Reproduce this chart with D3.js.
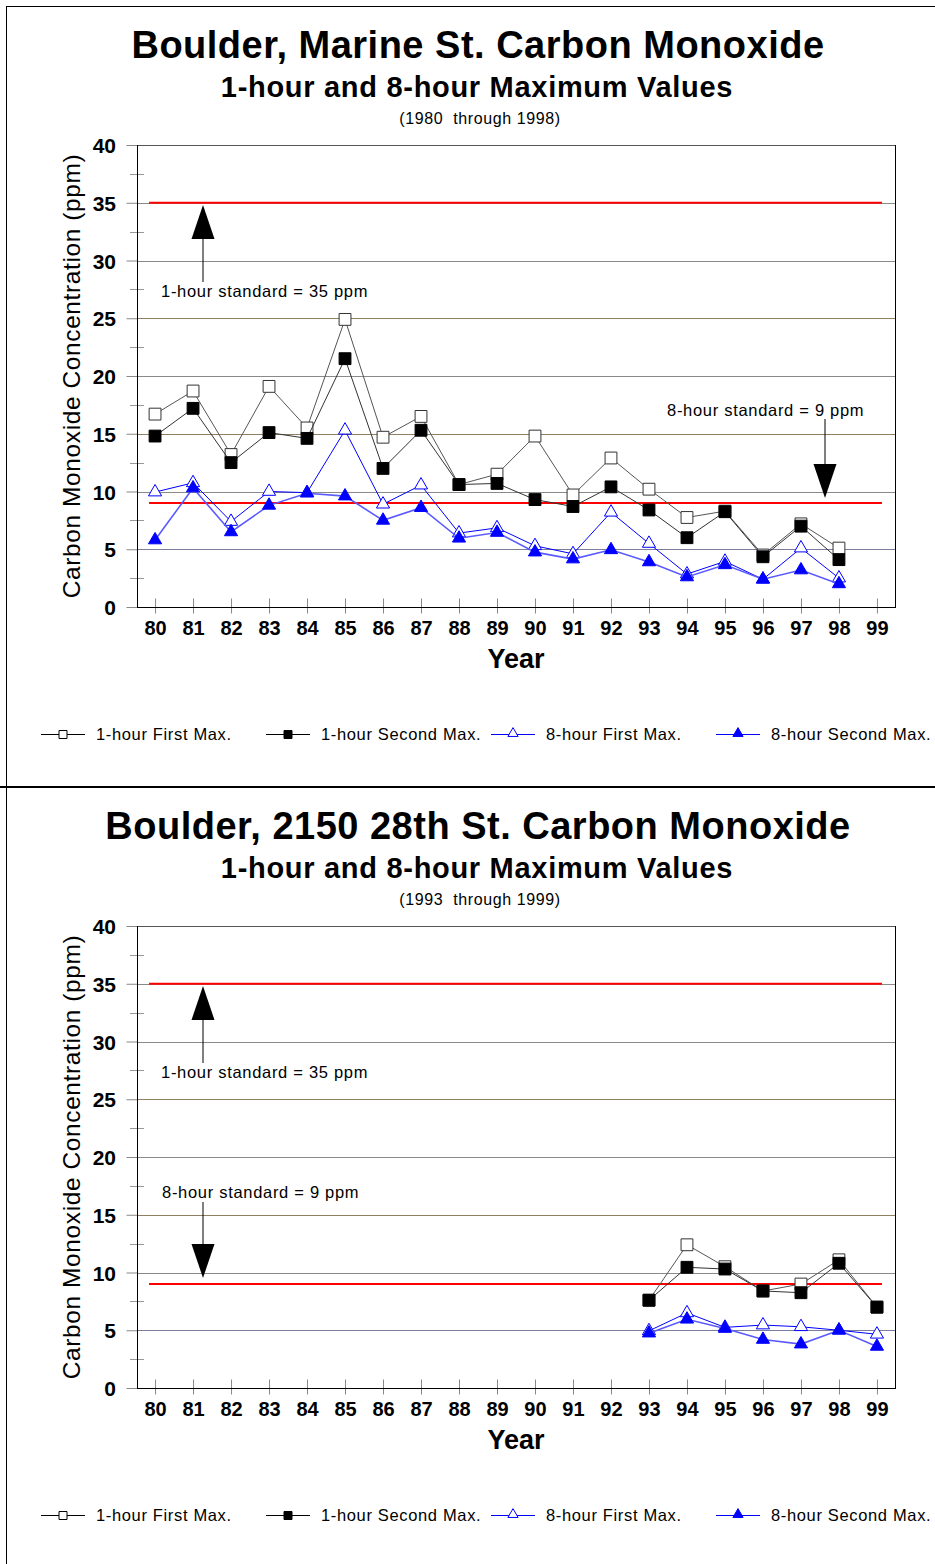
<!DOCTYPE html>
<html>
<head>
<meta charset="utf-8">
<script src="https://cdn.jsdelivr.net/npm/d3@7"></script>
<style>
  html, body { margin: 0; padding: 0; background: #fff; }
  svg { display: block; }
  text { font-family: Arial, "Liberation Sans", sans-serif; white-space: pre; }
</style>
</head>
<body>
<svg id="chart" width="935" height="1564"></svg>
<script>
// Year categories on the x axis (1980-1999)
const yearLabels = ["80","81","82","83","84","85","86","87","88","89","90","91","92","93","94","95","96","97","98","99"];
const yTicks = [0, 5, 10, 15, 20, 25, 30, 35, 40];

// Marine St. site, 1980-1998 (ppm)
const marineYears   = ["80","81","82","83","84","85","86","87","88","89","90","91","92","93","94","95","96","97","98"];
const marine1hFirst  = [16.7, 18.7, 13.2, 19.1, 15.5, 24.9, 14.7, 16.5, 10.6, 11.5, 14.8, 9.7, 12.9, 10.2, 7.75, 8.3, 4.5, 7.2, 5.1];
const marine1hSecond = [14.8, 17.2, 12.5, 15.1, 14.6, 21.5, 12.0, 15.3, 10.6, 10.7, 9.3, 8.7, 10.4, 8.4, 6.0, 8.25, 4.35, 7.0, 4.1];
const marine8hFirst  = [9.95, 10.75, 7.4, 10.0, 9.9, 15.3, 8.9, 10.55, 6.4, 6.85, 5.3, 4.6, 8.2, 5.5, 2.85, 3.95, 2.4, 5.1, 2.5];
const marine8hSecond = [5.8, 10.3, 6.5, 8.8, 9.85, 9.6, 7.5, 8.6, 5.95, 6.45, 4.75, 4.15, 4.95, 3.9, 2.6, 3.65, 2.4, 3.2, 2.0];

// 2150 28th St. site, 1993-1999 (ppm)
const st28Years    = ["93","94","95","96","97","98","99"];
const st281hFirst  = [7.6, 12.4, 10.5, 8.4, 9.0, 11.1, 7.0];
const st281hSecond = [7.6, 10.45, 10.3, 8.4, 8.25, 10.8, 7.0];
const st288hFirst  = [4.95, 6.5, 5.25, 5.45, 5.3, 5.0, 4.65];
const st288hSecond = [4.75, 5.95, 5.15, 4.2, 3.8, 5.0, 3.6];

// Air-quality standards (ppm)
const standard1h = 35;
const standard8h = 9;

const seriesNames = ["1-hour First Max.", "1-hour Second Max.", "8-hour First Max.", "8-hour Second Max."];

const svg = d3.select("#chart");

// page frame and panel divider
svg.append("line").attr("x1", 6.5).attr("x2", 6.5).attr("y1", 6).attr("y2", 1564).attr("stroke", "#000").attr("stroke-width", 1);
svg.append("line").attr("x1", 6).attr("x2", 935).attr("y1", 6.5).attr("y2", 6.5).attr("stroke", "#000").attr("stroke-width", 1);
svg.append("line").attr("x1", 0).attr("x2", 935).attr("y1", 787).attr("y2", 787).attr("stroke", "#000").attr("stroke-width", 2);

// marker symbols
const styles = [
  { symbol: d3.symbolSquare, fill: "#fff", stroke: "#333", line: "#555", lw: 1, size: 140 },
  { symbol: d3.symbolSquare, fill: "#000", stroke: "#000", line: "#333", lw: 1, size: 140 },
  { symbol: d3.symbolTriangle, fill: "#fff", stroke: "#0000ff", line: "#0000ff", lw: 1, size: 75 },
  { symbol: d3.symbolTriangle, fill: "#0000ff", stroke: "#0000ff", line: "#5a5aff", lw: 1.6, size: 75 }
];

const gridColors = { 5: "#7c7c9c", 10: "#8a8a8a", 15: "#8f8062", 20: "#8a8a8a", 25: "#8f8062", 30: "#8a8a8a", 40: "#555" };

function arrow(g, x, tipY, up, lineEnd) {
  // arrowhead of 23px wide, 34px tall plus a thin shaft
  const dir = up ? 1 : -1;
  const baseY = tipY + dir * 34;
  g.append("line").attr("x1", x).attr("x2", x).attr("y1", baseY).attr("y2", lineEnd)
    .attr("stroke", "#000").attr("stroke-width", 1);
  g.append("path")
    .attr("d", `M${x},${tipY} L${x - 11.5},${baseY} L${x + 11.5},${baseY} Z`)
    .attr("fill", "#000");
}

function drawPanel(offsetY, cfg) {
  const g = svg.append("g").attr("transform", `translate(0,${offsetY})`);

  const left = 137, right = 895, top = 145, bottom = 607;
  const x = d3.scalePoint().domain(yearLabels).range([left, right]).padding(0.475);
  const y = d3.scaleLinear().domain([0, 40]).range([bottom, top]);

  // titles
  g.append("text").attr("x", 478).attr("y", 58).attr("text-anchor", "middle")
    .attr("font-size", 38).attr("font-weight", "bold").attr("letter-spacing", 0.5).text(cfg.title);
  g.append("text").attr("x", 477).attr("y", 97).attr("text-anchor", "middle")
    .attr("font-size", 29).attr("font-weight", "bold").attr("letter-spacing", 0.7).text("1-hour and 8-hour Maximum Values");
  g.append("text").attr("x", 480).attr("y", 124).attr("text-anchor", "middle")
    .attr("font-size", 16).attr("letter-spacing", 0.6).text(cfg.range);

  // horizontal grid lines
  g.append("g").selectAll("line").data(yTicks.filter(d => d > 0)).join("line")
    .attr("x1", left).attr("x2", right)
    .attr("y1", d => Math.round(y(d)) + 0.5).attr("y2", d => Math.round(y(d)) + 0.5)
    .attr("stroke", d => gridColors[d] || "#8a8a8a").attr("stroke-width", 1);

  // y axis: major ticks outside, minor ticks crossing the axis
  const yAxis = d3.axisLeft(y).tickValues(yTicks).tickSize(11).tickPadding(10).tickFormat(d3.format("d"));
  const ya = g.append("g").attr("transform", `translate(${left + 0.5},0)`).call(yAxis);
  ya.select(".domain").remove();
  ya.selectAll(".tick line").attr("stroke", "#888");
  ya.selectAll(".tick text").attr("font-size", 21).attr("font-weight", "bold")
    .attr("font-family", "Arial, 'Liberation Sans', sans-serif").attr("fill", "#000")
    .attr("dy", "0.36em").attr("x", -21.5);
  const minor = d3.range(2.5, 40, 5);
  g.append("g").selectAll("line").data(minor).join("line")
    .attr("x1", left - 7).attr("x2", left + 7)
    .attr("y1", d => Math.round(y(d)) + 0.5).attr("y2", d => Math.round(y(d)) + 0.5)
    .attr("stroke", "#999");

  // x axis
  const xAxis = d3.axisBottom(x).tickSize(6).tickPadding(8);
  const xa = g.append("g").attr("transform", `translate(0,${bottom + 0.5})`).call(xAxis);
  xa.select(".domain").remove();
  xa.selectAll(".tick line").attr("stroke", "#888").attr("y1", -9);
  xa.selectAll(".tick text").attr("font-size", 20).attr("font-weight", "bold")
    .attr("font-family", "Arial, 'Liberation Sans', sans-serif").attr("fill", "#000")
    .attr("y", 13).attr("dy", "0.71em");

  // plot frame
  g.append("line").attr("x1", left + 0.5).attr("x2", left + 0.5).attr("y1", top).attr("y2", bottom + 1).attr("stroke", "#000");
  g.append("line").attr("x1", left).attr("x2", right + 1).attr("y1", bottom + 0.5).attr("y2", bottom + 0.5).attr("stroke", "#000");
  g.append("line").attr("x1", right + 0.5).attr("x2", right + 0.5).attr("y1", top).attr("y2", bottom + 1).attr("stroke", "#000");

  // axis titles
  g.append("text").attr("transform", `translate(80,376) rotate(-90)`).attr("text-anchor", "middle")
    .attr("font-size", 24.5).attr("letter-spacing", 0.6).text("Carbon Monoxide Concentration (ppm)");
  g.append("text").attr("x", 516).attr("y", 668).attr("text-anchor", "middle")
    .attr("font-size", 27).attr("font-weight", "bold").text("Year");

  // standard lines
  [standard1h, standard8h].forEach(v => {
    g.append("line").attr("x1", x("80") - 6).attr("x2", x("99") + 5)
      .attr("y1", y(v)).attr("y2", y(v)).attr("stroke", "#ff0000").attr("stroke-width", 2);
  });

  // annotations
  cfg.notes.forEach(n => {
    g.append("text").attr("x", n.tx).attr("y", n.ty).attr("font-size", 16.5)
      .attr("letter-spacing", 0.7).text(n.text);
    arrow(g, n.ax, n.tip, n.up, n.end);
  });

  // series
  cfg.series.forEach((vals, i) => {
    const st = styles[i];
    const pts = cfg.years.map((yr, j) => [x(yr), y(vals[j])]);
    g.append("path").attr("d", d3.line()(pts)).attr("fill", "none")
      .attr("stroke", st.line).attr("stroke-width", st.lw);
    g.append("g").selectAll("path").data(pts).join("path")
      .attr("transform", d => `translate(${d[0]},${d[1]})`)
      .attr("d", d3.symbol(st.symbol, st.size))
      .attr("fill", st.fill).attr("stroke", st.stroke).attr("stroke-width", 1);
  });

  // legend
  const legX = [41, 266, 491, 716];
  const lg = g.append("g").attr("transform", `translate(0,734)`);
  seriesNames.forEach((name, i) => {
    const st = styles[i];
    const lx = legX[i];
    lg.append("line").attr("x1", lx).attr("x2", lx + 44).attr("y1", 0.5).attr("y2", 0.5)
      .attr("stroke", i < 2 ? "#000" : "#0000ff");
    lg.append("path").attr("transform", `translate(${lx + 22},${i < 2 ? 0.5 : -0.5})`)
      .attr("d", d3.symbol(st.symbol, i < 2 ? 64 : 45))
      .attr("fill", st.fill).attr("stroke", i < 2 ? "#000" : "#0000ff");
    lg.append("text").attr("x", lx + 55).attr("y", 6).attr("font-size", 16.5)
      .attr("letter-spacing", 0.65).text(name);
  });
}

drawPanel(0, {
  title: "Boulder, Marine St. Carbon Monoxide",
  range: "(1980  through 1998)",
  years: marineYears,
  series: [marine1hFirst, marine1hSecond, marine8hFirst, marine8hSecond],
  notes: [
    { text: "1-hour standard = 35 ppm", tx: 161, ty: 297, ax: 203, tip: 205, up: true, end: 282 },
    { text: "8-hour standard = 9 ppm", tx: 667, ty: 416, ax: 825, tip: 498, up: false, end: 419 }
  ]
});

drawPanel(781, {
  title: "Boulder, 2150 28th St. Carbon Monoxide",
  range: "(1993  through 1999)",
  years: st28Years,
  series: [st281hFirst, st281hSecond, st288hFirst, st288hSecond],
  notes: [
    { text: "1-hour standard = 35 ppm", tx: 161, ty: 297, ax: 203, tip: 205, up: true, end: 282 },
    { text: "8-hour standard = 9 ppm", tx: 162, ty: 417, ax: 203, tip: 497, up: false, end: 421 }
  ]
});
</script>
</body>
</html>
